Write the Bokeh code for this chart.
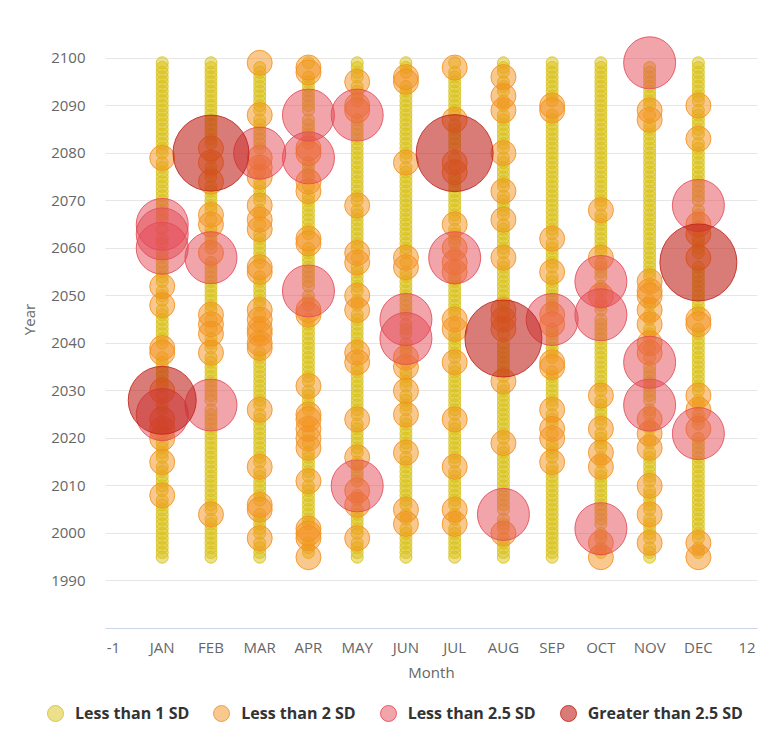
import numpy as np
from bokeh.plotting import figure
from bokeh.models import ColumnDataSource, FixedTicker, Legend, LegendItem, Range1d
from bokeh.embed import file_html
from bokeh.resources import INLINE

# ---------------- data ----------------
MONTHS = ["JAN", "FEB", "MAR", "APR", "MAY", "JUN", "JUL", "AUG", "SEP", "OCT", "NOV", "DEC"]
FIRST_YEAR = 1995
LAST_YEAR = 2099

# years whose anomaly is between 1 and 2 SD
ORANGE_YEARS = {
    "JAN": [2079, 2052, 2048, 2039, 2038, 2030, 2024, 2022, 2020, 2015, 2008],
    "FEB": [2081, 2078, 2074, 2067, 2065, 2059, 2046, 2044, 2042, 2038, 2004],
    "MAR": [2099, 2088, 2079, 2077, 2075, 2069, 2066, 2064, 2056, 2055, 2047, 2045,
            2043, 2042, 2040, 2039, 2026, 2014, 2006, 2005, 1999],
    "APR": [2098, 2097, 2081, 2080, 2074, 2072, 2062, 2061, 2047, 2046, 2031, 2025,
            2024, 2022, 2020, 2018, 2011, 2001, 2000, 1999, 1995],
    "MAY": [2095, 2090, 2089, 2069, 2059, 2057, 2050, 2047, 2038, 2036, 2024, 2016,
            2009, 2006, 1999],
    "JUN": [2096, 2095, 2078, 2058, 2056, 2037, 2035, 2030, 2025, 2017, 2005, 2002],
    "JUL": [2098, 2087, 2078, 2076, 2065, 2060, 2057, 2055, 2045, 2043, 2036, 2024,
            2014, 2005, 2002],
    "AUG": [2096, 2092, 2089, 2080, 2072, 2066, 2058, 2047, 2045, 2043, 2032, 2019, 2000],
    "SEP": [2090, 2089, 2062, 2055, 2046, 2044, 2036, 2035, 2026, 2022, 2020, 2015],
    "OCT": [2068, 2058, 2050, 2029, 2022, 2017, 2014, 1998, 1995],
    "NOV": [2089, 2087, 2053, 2051, 2050, 2047, 2044, 2040, 2038, 2024, 2021, 2018,
            2010, 2004, 1998],
    "DEC": [2090, 2083, 2065, 2063, 2058, 2045, 2044, 2029, 2026, 2022, 1998, 1995],
}

# years whose anomaly is between 2 and 2.5 SD
PINK_YEARS = {
    "JAN": [2065, 2063, 2060, 2025],
    "FEB": [2058, 2027],
    "MAR": [2080],
    "APR": [2088, 2079, 2051],
    "MAY": [2088, 2010],
    "JUN": [2045, 2041],
    "JUL": [2058],
    "AUG": [2004],
    "SEP": [2045],
    "OCT": [2053, 2046, 2001],
    "NOV": [2099, 2036, 2027],
    "DEC": [2069, 2021],
}

# years whose anomaly is greater than 2.5 SD, with their magnitude (SD)
RED_YEARS = {"JAN": [2028], "FEB": [2080], "JUL": [2080], "AUG": [2041], "DEC": [2057]}
RED_Z = {"JAN": [3.0], "FEB": [3.4], "JUL": [3.45], "AUG": [3.45], "DEC": [3.45]}

SERIES_NAMES = ["Less than 1 SD", "Less than 2 SD", "Less than 2.5 SD", "Greater than 2.5 SD"]
SERIES_Z = [0.8, 1.6, 2.3]          # typical magnitude of the three lower classes
SERIES_COLORS = ["#D9C21A", "#F39220", "#E44A56", "#C0241C"]
SERIES_FILL_ALPHA = [0.5, 0.5, 0.5, 0.6]

X_TICKS = list(range(-1, 13))
X_TICK_LABELS = ["-1"] + MONTHS + ["12"]
Y_TICKS = list(range(1980, 2111, 10))

# bubble size scale (SD magnitude -> pixel diameter)
Z_STOPS = [0.8, 1.6, 2.3, 3.0, 3.45]
SIZE_STOPS = [12, 25, 52, 68, 77]


def bubble_size(z):
    return np.interp(np.asarray(z, dtype=float), Z_STOPS, SIZE_STOPS)


month_index = {m: i for i, m in enumerate(MONTHS)}


def make_source(year_dict, z_default=None, z_dict=None):
    xs, ys, zs = [], [], []
    for m, years in year_dict.items():
        for k, yr in enumerate(years):
            xs.append(month_index[m])
            ys.append(yr)
            zs.append(z_dict[m][k] if z_dict is not None else z_default)
    return ColumnDataSource(dict(x=xs, y=ys, z=zs, size=bubble_size(zs)))


# the remaining years of each month fall in the "less than 1 SD" class
yellow_years = {}
for m in MONTHS:
    taken = set(ORANGE_YEARS.get(m, [])) | set(PINK_YEARS.get(m, [])) | set(RED_YEARS.get(m, []))
    yellow_years[m] = [y for y in range(FIRST_YEAR, LAST_YEAR + 1) if y not in taken]

sources = [
    make_source(yellow_years, z_default=SERIES_Z[0]),
    make_source(ORANGE_YEARS, z_default=SERIES_Z[1]),
    make_source(PINK_YEARS, z_default=SERIES_Z[2]),
    make_source(RED_YEARS, z_dict=RED_Z),
]

# ---------------- main figure ----------------
FONT = "Open Sans"
p = figure(
    width=762, height=693,
    x_range=Range1d(-1.164, 12.213), y_range=Range1d(1980, 2110),
    output_backend="svg", toolbar_location=None,
    min_border_left=105, min_border_right=5, min_border_top=10, min_border_bottom=65,
)
p.outline_line_color = None
p.background_fill_color = "white"

for src, col, fa in zip(sources, SERIES_COLORS, SERIES_FILL_ALPHA):
    p.scatter("x", "y", size="size", source=src, marker="circle",
              fill_color=col, fill_alpha=fa, line_color=col, line_alpha=0.85, line_width=1)

# x axis
p.xaxis.ticker = FixedTicker(ticks=X_TICKS)
p.xaxis.major_label_overrides = {t: lab for t, lab in zip(X_TICKS, X_TICK_LABELS)}
p.xaxis.axis_line_color = "#ccd6eb"
p.xaxis.major_tick_line_color = None
p.xaxis.minor_tick_line_color = None
p.xaxis.major_label_text_font = FONT
p.xaxis.major_label_text_font_size = "15px"
p.xaxis.major_label_text_color = "#666666"
p.xaxis.major_label_standoff = 2
p.xaxis.axis_label = "Month"
p.xaxis.axis_label_text_font = FONT
p.xaxis.axis_label_text_font_size = "15px"
p.xaxis.axis_label_text_font_style = "normal"
p.xaxis.axis_label_text_color = "#666666"
p.xaxis.axis_label_standoff = 2

# y axis
p.yaxis.ticker = FixedTicker(ticks=Y_TICKS)
p.yaxis.major_label_overrides = {1980: "", 2110: ""}
p.yaxis.axis_line_color = None
p.yaxis.major_tick_line_color = None
p.yaxis.minor_tick_line_color = None
p.yaxis.major_label_text_font = FONT
p.yaxis.major_label_text_font_size = "15px"
p.yaxis.major_label_text_color = "#666666"
p.yaxis.major_label_standoff = 14
p.yaxis.axis_label = "Year"
p.yaxis.axis_label_text_font = FONT
p.yaxis.axis_label_text_font_size = "15px"
p.yaxis.axis_label_text_font_style = "normal"
p.yaxis.axis_label_text_color = "#666666"
p.yaxis.axis_label_standoff = 9

p.xgrid.visible = False
p.ygrid.grid_line_color = "#e6e6e6"

# ---------------- legend strip (a second root, stacked under the chart) ----------------
# same series drawn on a strip whose ranges show none of the points; only the legend is visible
lg = figure(width=762, height=40, x_range=Range1d(-100, -99), y_range=Range1d(-100, -99),
            x_axis_location=None, y_axis_location=None,
            output_backend="svg", toolbar_location=None, min_border=0)
lg.outline_line_color = None
lg.grid.visible = False
legend_renderers = []
for src, col, fa in zip(sources, SERIES_COLORS, SERIES_FILL_ALPHA):
    legend_renderers.append(
        lg.scatter("x", "y", size="size", source=src, marker="circle",
                   fill_color=col, fill_alpha=fa, line_color=col, line_alpha=0.85, line_width=1))

legend = Legend(
    items=[LegendItem(label=n, renderers=[r]) for n, r in zip(SERIES_NAMES, legend_renderers)],
    orientation="horizontal", location=(35, 0),
    glyph_width=40, glyph_height=40, label_standoff=0, spacing=12,
    padding=0, margin=0, border_line_color=None, background_fill_alpha=0,
    label_text_font=FONT, label_text_font_style="bold", label_text_font_size="16px",
    label_text_color="#333333",
)
lg.add_layout(legend, "center")

open("out.html", "w").write(file_html([p, lg], INLINE))
